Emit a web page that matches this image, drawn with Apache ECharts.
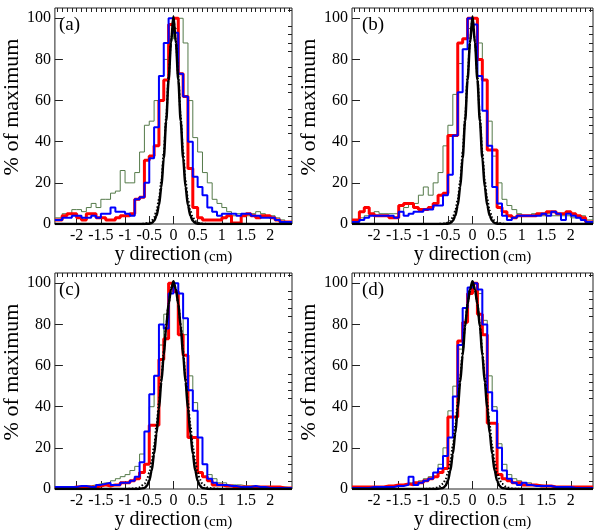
<!DOCTYPE html>
<html><head><meta charset="utf-8">
<script src="https://cdn.jsdelivr.net/npm/echarts@6/dist/echarts.min.js"></script>
<style>html,body{margin:0;padding:0;background:#fff}#c{width:602px;height:531px}</style>
</head><body><div id="c"></div>
<script>
// ---- data ----
const binLo = -2.4, binWidth = 0.1;          // 48 bins from -2.4 to 2.4
const xMin = -2.45, xMax = 2.45;
const xTickLabels = [-2, -1.5, -1, -0.5, 0, 0.5, 1, 1.5, 2];
const yTickLabels = [0, 20, 40, 60, 80, 100];
const panelLabels = ['(a)', '(b)', '(c)', '(d)'];

const aGreen = [3,5,5,7,7,6,8,10,8,12,12,15,16,26,20,20,25,35,48,50,60,72,80,90,
                95,100,88,60,42,35,25,20,12,10,8,6,4,5,5,4,5,6,5,4,4,3,2,1];
const aRed   = [2,4,5,5,3,2,5,5,3,3,2,2,3,4,4,5,12,13,31,33,38,60,70,97,
                100,73,62,27,8,3,2,2,2,2,3,4,0.5,0.5,4,5,4,3,4,4,3,2,1,1];
const aBlue  = [2,3,3,4,4,3,3,4,3,5,5,8,6,6,5,4,12,13,20,32,47,72,88,100,
                93,73,62,40,23,18,14,8,6,4,5,5,5,4,5,5,4,4,3,3,3,2,1,1];

const bGreen = [2,3,4,5,6,5,5,5,5,6,8,10,10,14,18,14,20,25,38,48,63,78,85,95,
                100,88,70,50,33,20,12,9,7,5,4,4,5,5,4,5,4,4,4,4,3,3,4,2];
const bRed   = [2,6,8,5,4,4,4,3,3,9,10,10,8,7,7,8,10,14,15,43,43,88,90,100,
                100,80,70,36,36,8,6,4,3,4,4,4,4,5,5,6,6,5,5,6,5,4,3,1];
const bBlue  = [1,2,3,4,4,4,4,4,3,6,4,5,6,6,7,7,9,9,14,24,43,64,85,100,
                97,72,55,38,18,10,4,2,3,4,4,4,4,4,5,4,6,5,2,5,4,3,2,1];

const cGreen = [1,1,1,1,1,1.5,1.5,2,2.5,3,3,4,5,6,7,9,11,17,28,40,55,70,85,98,
                100,95,75,55,42,25,12,7,5,3,3,2,2,2,1.5,1.5,1.5,1,1,1,1,1,1,0.5];
const cRed   = [0.5,0.5,0.5,1,1,1,1,1,1.5,2,1.5,2,2,3,3,4,5,8,12,31,31,63,73,100,
                96,75,65,25,25,8,6,4,2,2,1.5,1.5,1,1,1,1,1,1,1,1,1,1,0.5,0.5];
const cBlue  = [1,1,1,1,1.5,1.5,1,1,2,2.5,3,2,2,3,3,4,6,13,28,46,55,80,78,95,
                100,95,83,48,38,25,12,5,3,2,2,1.5,1.5,1,1,1,1.5,1,1,0.5,0.5,0.5,0.5,0.5];

const dGreen = [0.5,0.5,0.5,1,1,1,1,1.5,1.5,2,2,3,3,4,5,6,8,12,20,38,50,68,88,96,
                100,95,82,55,40,22,12,7,5,4,3,3,2,2,1.5,1.5,1,1,1,1,1,1,0.5,0.5];
const dRed   = [1,1,1,1,1,1,1.5,1.5,2,2,2.5,2,3,3,4,5,6,8,10,35,35,72,81,95,
                100,85,75,32,32,7,5,4,3,3,2,2,2,1.5,1.5,1.5,1,1,1,1,1,1,1,1];
const dBlue  = [0.5,0.5,0.5,1,1,1,1,1,1.5,1.5,2,6,2,3,4,5,8,10,16,25,45,70,88,98,
                100,97,80,47,38,20,9,5,3,2,3,2,1.5,1.5,1.5,1.5,1,1,1,1,0.5,0.5,0.5,0.5];

// smooth reference curves (solid and dotted black)
const curveX = [-2.45,-1.0,-0.9,-0.8,-0.7,-0.6,-0.55,-0.5,-0.45,-0.4,-0.35,-0.3,-0.25,-0.2,-0.15,-0.1,-0.05,
                0,0.05,0.1,0.15,0.2,0.25,0.3,0.35,0.4,0.45,0.5,0.55,0.6,0.7,0.8,0.9,1.0,2.45];
const abSolid  = [0,0,0,0,0,0.05,0.1,0.15,0.5,1.5,4,9,18,32,50,70,88,
                  101,88,70,50,32,18,9,4,1.5,0.5,0.15,0.1,0.05,0,0,0,0,0];
const abDotted = [0,0,0,0,0.05,0.15,0.35,0.7,1.5,3.2,6.5,12,21,35,52,72,89,
                  100,89,72,52,35,21,12,6.5,3.2,1.5,0.7,0.35,0.15,0.05,0,0,0,0];
const cdSolid  = [0,0,0,0,0.1,0.5,1.5,4,9,17,27,39,52,65,79,90,97,
                  101,97,90,79,65,52,39,27,17,9,4,1.5,0.5,0.1,0,0,0,0];
const cdDotted = [0,0,0.1,0.3,0.8,2.5,4.5,8,13.5,21,31,42,54,67,80,90,97,
                  100,97,90,80,67,54,42,31,21,13.5,8,4.5,2.5,0.8,0.3,0.1,0,0];

// ---- build ----
const font = 'Liberation Serif, Times New Roman, serif';
function hist(vals){
  const d = [[xMin, vals[0]]];
  vals.forEach((v,i)=>{ if (i>0) d.push([+(binLo+i*binWidth).toFixed(2), v]); });
  d.push([xMax, vals[vals.length-1]]);
  return d;
}
function curve(vals){ return curveX.map((x,i)=>[x, vals[i]]); }
const minorX = []; for (let i=-24;i<=24;i++){ minorX.push(+(i*0.1).toFixed(2)); }
const minorY = []; for (let v=4; v<=104; v+=4){ if (v%20) minorY.push(v); }

const panels = [
  {g:{left:49, top:8,   width:243, height:216}, green:aGreen, red:aRed, blue:aBlue, solid:abSolid, dotted:abDotted},
  {g:{left:352,top:8,   width:241, height:216}, green:bGreen, red:bRed, blue:bBlue, solid:abSolid, dotted:abDotted},
  {g:{left:49, top:273, width:243, height:216}, green:cGreen, red:cRed, blue:cBlue, solid:cdSolid, dotted:cdDotted},
  {g:{left:352,top:273, width:241, height:216}, green:dGreen, red:dRed, blue:dBlue, solid:cdSolid, dotted:cdDotted}
];

const noLine = {show:false, onZero:false};
const grid=[], xAxis=[], yAxis=[], series=[], title=[];
panels.forEach((p,k)=>{
  grid.push(Object.assign({show:true, borderColor:'#222', borderWidth:1, backgroundColor:'#fff'}, p.g));
  xAxis.push({type:'value', gridIndex:k, min:xMin, max:xMax,
    axisLine:noLine, splitLine:{show:false},
    axisTick:{inside:true, length:8, customValues:xTickLabels, lineStyle:{color:'#222'}},
    axisLabel:{customValues:xTickLabels, fontFamily:font, fontSize:16, color:'#000', margin:4},
    name:'{a|y direction} {b|(cm)}', nameLocation:'middle', nameGap:19,
    nameTextStyle:{rich:{a:{fontFamily:font, fontSize:20, color:'#000'}, b:{fontFamily:font, fontSize:15, color:'#000', padding:[4,0,0,0]}}}
  });
  xAxis.push({type:'value', gridIndex:k, min:xMin, max:xMax,
    axisLine:noLine, splitLine:{show:false}, axisLabel:{show:false},
    axisTick:{inside:true, length:4, customValues:minorX, lineStyle:{color:'#222'}}});
  yAxis.push({type:'value', gridIndex:k, min:0, max:105,
    axisLine:noLine, splitLine:{show:false},
    axisTick:{inside:true, length:8, customValues:yTickLabels, lineStyle:{color:'#222'}},
    axisLabel:{customValues:yTickLabels, fontFamily:font, fontSize:16, color:'#000', margin:4},
    name:'% of maximum', nameLocation:'middle', nameGap:30,
    nameTextStyle:{fontFamily:font, fontSize:22, color:'#000', padding:[0,0,0,18]}
  });
  yAxis.push({type:'value', gridIndex:k, min:0, max:105,
    axisLine:noLine, splitLine:{show:false}, axisLabel:{show:false},
    axisTick:{inside:true, length:4, customValues:minorY, lineStyle:{color:'#222'}}});
  title.push({text:panelLabels[k], left:p.g.left+5, top:p.g.top+3,
    textStyle:{fontFamily:font, fontSize:19, fontWeight:'normal', color:'#000'}});
  const common = {type:'line', xAxisIndex:2*k, yAxisIndex:2*k, showSymbol:false, symbol:'none', animation:false, silent:true};
  series.push(Object.assign({data:hist(p.green), step:'end', lineStyle:{color:'#557a4a', width:1}, z:2}, common));
  series.push(Object.assign({data:hist(p.red), step:'end', lineStyle:{color:'#ff0000', width:3}, z:3}, common));
  series.push(Object.assign({data:hist(p.blue), step:'end', lineStyle:{color:'#0000ff', width:2}, z:4}, common));
  series.push(Object.assign({data:curve(p.dotted), smooth:0.3, smoothMonotone:'x', lineStyle:{color:'#000', width:2, type:[1.5,2]}, z:5}, common));
  series.push(Object.assign({data:curve(p.solid), smooth:0.3, smoothMonotone:'x', lineStyle:{color:'#000', width:2.5}, z:6}, common));
});

const chart = echarts.init(document.getElementById('c'), null, {renderer:'canvas'});
chart.setOption({animation:false, backgroundColor:'#fff', title, grid, xAxis, yAxis, series});
</script>
</body></html>
